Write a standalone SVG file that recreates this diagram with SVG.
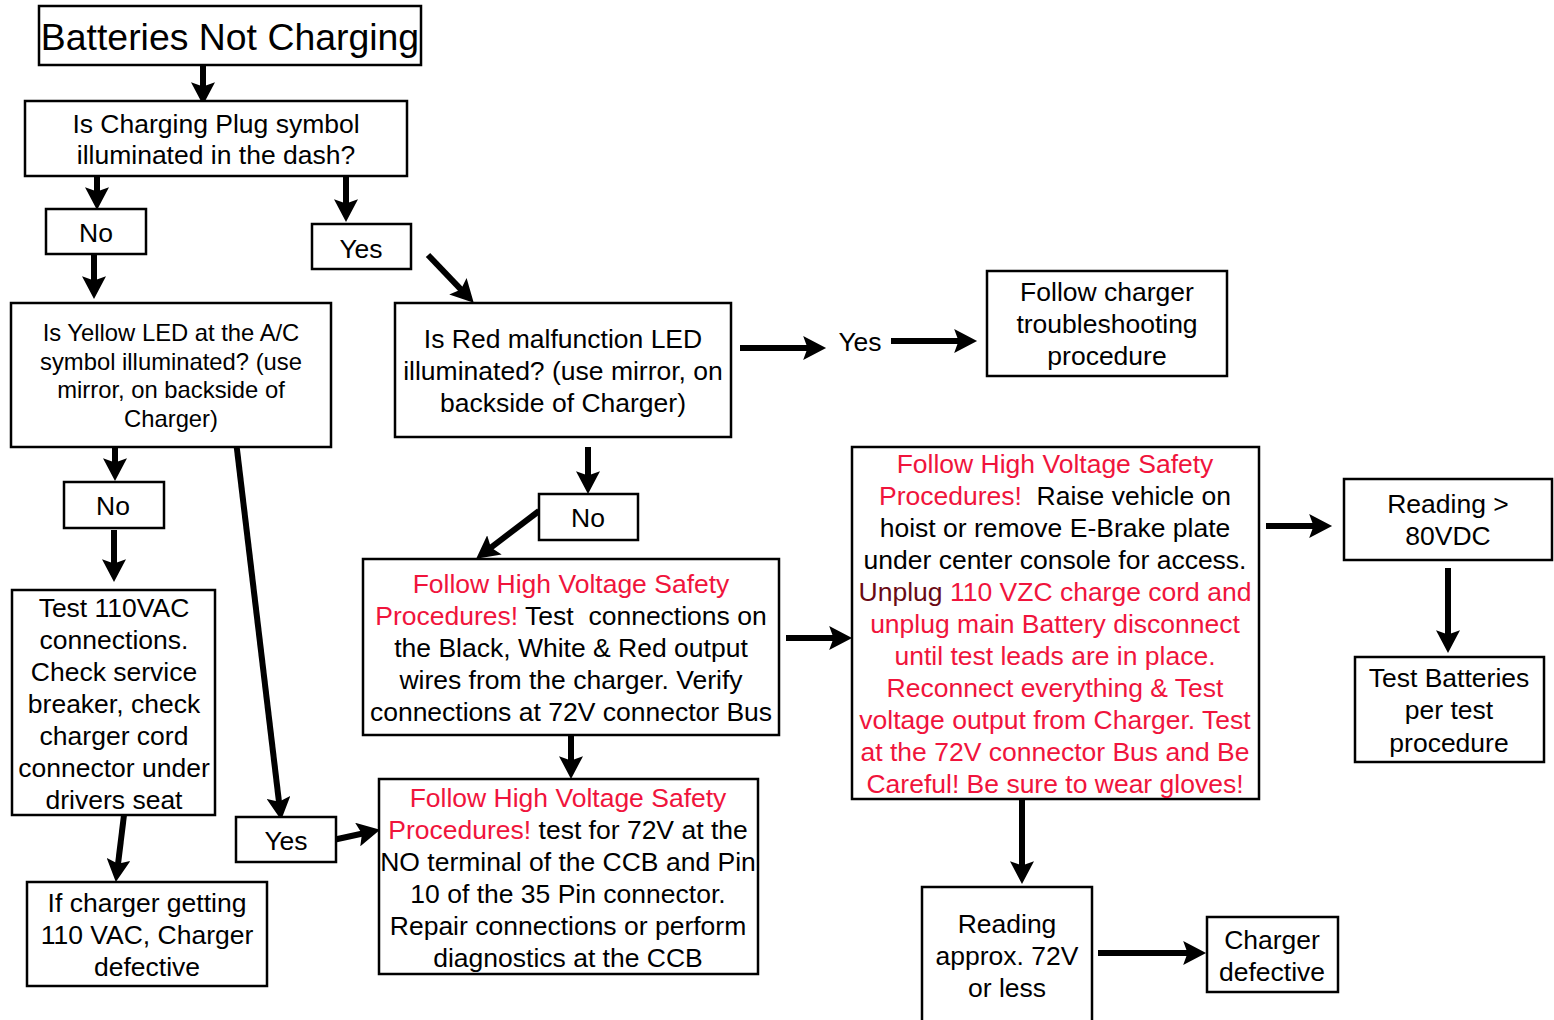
<svg xmlns="http://www.w3.org/2000/svg" width="1554" height="1020" viewBox="0 0 1554 1020">
<style>
rect.b{fill:#fff;stroke:#000;stroke-width:2.5}
text{font-family:"Liberation Sans",Arial,sans-serif;font-size:26.5px;fill:#000;text-anchor:middle;white-space:pre}
.r{fill:#f0143c}
.dr{fill:#6a0a14}
.sm{font-size:23.8px}
.t{font-size:37.4px}
.c line{stroke:#000;stroke-width:6}
</style>
<defs>
<marker id="ah" markerUnits="userSpaceOnUse" markerWidth="24" markerHeight="24" viewBox="0 0 22 22" refX="9" refY="11" orient="auto">
<path d="M0,0 L21,11 L0,22 L4,11 Z" fill="#000"/>
</marker>
</defs>
<rect width="1554" height="1020" fill="#fff"/>
<g class="c" id="connectors">
<line x1="203" y1="65" x2="203" y2="92" marker-end="url(#ah)"/>
<line x1="97" y1="166" x2="97" y2="197" marker-end="url(#ah)"/>
<line x1="346" y1="177" x2="346" y2="209" marker-end="url(#ah)"/>
<line x1="94" y1="254" x2="94" y2="286" marker-end="url(#ah)"/>
<line x1="428" y1="255" x2="464.7" y2="293.4" marker-end="url(#ah)"/>
<line x1="740" y1="348" x2="813" y2="348" marker-end="url(#ah)"/>
<line x1="891" y1="341" x2="964" y2="341" marker-end="url(#ah)"/>
<line x1="588" y1="447" x2="588" y2="481" marker-end="url(#ah)"/>
<line x1="539" y1="511" x2="486.6" y2="550.8" marker-end="url(#ah)"/>
<line x1="115" y1="435" x2="115" y2="468" marker-end="url(#ah)"/>
<line x1="114" y1="530" x2="114" y2="569" marker-end="url(#ah)"/>
<line x1="236" y1="441" x2="279.6" y2="807.1" marker-end="url(#ah)"/>
<line x1="124" y1="815" x2="117.4" y2="869.1" marker-end="url(#ah)"/>
<line x1="333" y1="840" x2="367.3" y2="832.5" marker-end="url(#ah)"/>
<line x1="571" y1="735" x2="571" y2="766" marker-end="url(#ah)"/>
<line x1="786" y1="638" x2="839" y2="638" marker-end="url(#ah)"/>
<line x1="1266" y1="526" x2="1319" y2="526" marker-end="url(#ah)"/>
<line x1="1448" y1="568" x2="1448" y2="640" marker-end="url(#ah)"/>
<line x1="1022" y1="797" x2="1022" y2="871" marker-end="url(#ah)"/>
<line x1="1098" y1="953" x2="1193" y2="953" marker-end="url(#ah)"/>
</g>
<g id="start"><rect class="b" x="39" y="6" width="382" height="59"/><text class="t" x="230" y="50">Batteries Not Charging</text></g>
<g id="q-plug"><rect class="b" x="25" y="101" width="382" height="75"/><text x="216" y="133">Is Charging Plug symbol</text><text x="216" y="164">illuminated in the dash?</text></g>
<g id="no1"><rect class="b" x="46" y="209" width="100" height="45"/><text x="96" y="242">No</text></g>
<g id="yes1"><rect class="b" x="312" y="224" width="99" height="45"/><text x="361" y="258">Yes</text></g>
<g id="q-yellow"><rect class="b" x="11" y="303" width="320" height="144"/>
<text class="sm" x="171" y="341">Is Yellow LED at the A/C</text><text class="sm" x="171" y="370">symbol illuminated? (use</text><text class="sm" x="171" y="398">mirror, on backside of</text><text class="sm" x="171" y="427">Charger)</text></g>
<g id="q-red"><rect class="b" x="395" y="303" width="336" height="134"/>
<text x="563" y="348">Is Red malfunction LED</text><text x="563" y="380">illuminated? (use mirror, on</text><text x="563" y="412">backside of Charger)</text></g>
<g id="yes2"><text x="860" y="351">Yes</text></g>
<g id="follow-charger"><rect class="b" x="987" y="271" width="240" height="105"/>
<text x="1107" y="301">Follow charger</text><text x="1107" y="333">troubleshooting</text><text x="1107" y="365">procedure</text></g>
<g id="no2"><rect class="b" x="64" y="482" width="100" height="46"/><text x="113" y="515">No</text></g>
<g id="no3"><rect class="b" x="539" y="494" width="99" height="46"/><text x="588" y="527">No</text></g>
<g id="test110"><rect class="b" x="12" y="590" width="203" height="225"/>
<text x="114" y="617">Test 110VAC</text><text x="114" y="649">connections.</text><text x="114" y="681">Check service</text><text x="114" y="713">breaker, check</text><text x="114" y="745">charger cord</text><text x="114" y="777">connector under</text><text x="114" y="809">drivers seat</text></g>
<g id="hv1"><rect class="b" x="363" y="559" width="416" height="176"/>
<text class="r" x="571" y="593">Follow High Voltage Safety</text>
<text x="571" y="625"><tspan class="r">Procedures!</tspan> Test  connections on</text>
<text x="571" y="657">the Black, White &amp; Red output</text>
<text x="571" y="689">wires from the charger. Verify</text>
<text x="571" y="721">connections at 72V connector Bus</text></g>
<g id="hv2"><rect class="b" x="379" y="779" width="379" height="195"/>
<text class="r" x="568" y="807">Follow High Voltage Safety</text>
<text x="568" y="839"><tspan class="r">Procedures!</tspan> test for 72V at the</text>
<text x="568" y="871">NO terminal of the CCB and Pin</text>
<text x="568" y="903">10 of the 35 Pin connector.</text>
<text x="568" y="935">Repair connections or perform</text>
<text x="568" y="967">diagnostics at the CCB</text></g>
<g id="yes3"><rect class="b" x="236" y="817" width="100" height="45"/><text x="286" y="850">Yes</text></g>
<g id="charger-def1"><rect class="b" x="27" y="882" width="240" height="104"/>
<text x="147" y="912">If charger getting</text><text x="147" y="944">110 VAC, Charger</text><text x="147" y="976">defective</text></g>
<g id="hv3"><rect class="b" x="852" y="447" width="407" height="352"/>
<text class="r" x="1055" y="473">Follow High Voltage Safety</text>
<text x="1055" y="505"><tspan class="r">Procedures!</tspan>  Raise vehicle on</text>
<text x="1055" y="537">hoist or remove E-Brake plate</text>
<text x="1055" y="569">under center console for access.</text>
<text class="r" x="1055" y="601"><tspan class="dr">Unplug</tspan> 110 VZC charge cord and</text>
<text class="r" x="1055" y="633">unplug main Battery disconnect</text>
<text class="r" x="1055" y="665">until test leads are in place.</text>
<text class="r" x="1055" y="697">Reconnect everything &amp; Test</text>
<text class="r" x="1055" y="729">voltage output from Charger. Test</text>
<text class="r" x="1055" y="761">at the 72V connector Bus and Be</text>
<text class="r" x="1055" y="793">Careful! Be sure to wear gloves!</text></g>
<g id="reading80"><rect class="b" x="1344" y="479" width="208" height="81"/>
<text x="1448" y="513">Reading &gt;</text><text x="1448" y="545">80VDC</text></g>
<g id="test-batteries"><rect class="b" x="1355" y="657" width="189" height="105"/>
<text x="1449" y="687">Test Batteries</text><text x="1449" y="719">per test</text><text x="1449" y="752">procedure</text></g>
<g id="reading72"><rect class="b" x="922" y="887" width="170" height="140"/>
<text x="1007" y="933">Reading</text><text x="1007" y="965">approx. 72V</text><text x="1007" y="997">or less</text></g>
<g id="charger-def2"><rect class="b" x="1207" y="917" width="131" height="75"/>
<text x="1272" y="949">Charger</text><text x="1272" y="981">defective</text></g>
</svg>
